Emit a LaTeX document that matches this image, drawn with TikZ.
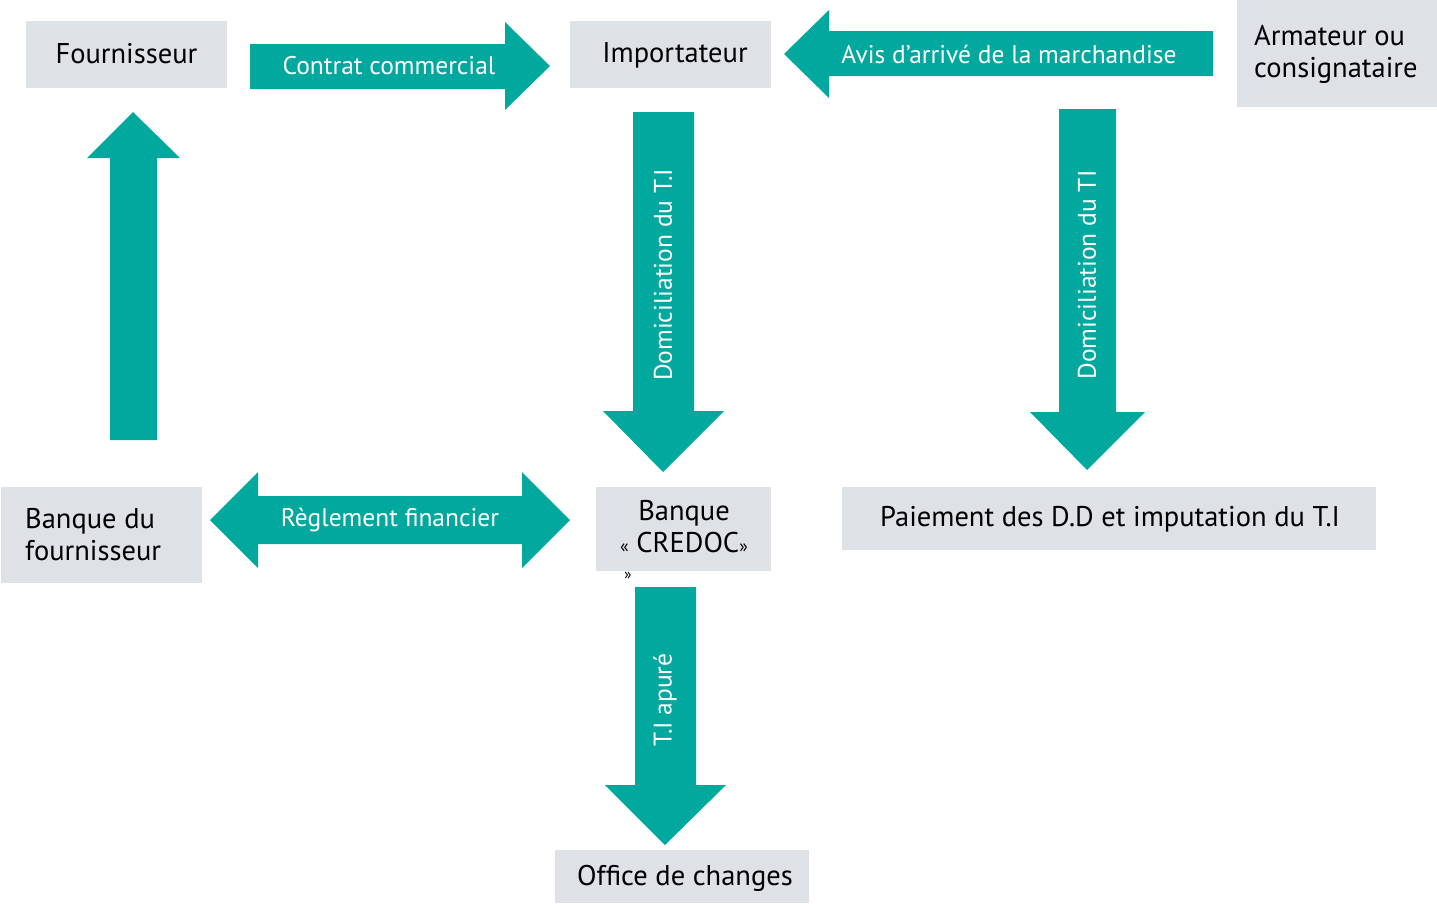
\documentclass[tikz,border=0pt]{standalone}
\usepackage{fontspec}
\setmainfont{PT Sans}
\definecolor{teal1}{HTML}{00A89D}
\definecolor{box1}{HTML}{DEE1E5}
\begin{document}
\begin{tikzpicture}[x=1pt,y=-1pt,
  boxfill/.style={fill=box1},
  arr/.style={fill=teal1},
  lbl/.style={font=\fontsize{28.5}{32}\selectfont, text=black, inner sep=0pt},
  albl/.style={font=\fontsize{25.5}{30}\selectfont, text=white, inner sep=0pt}]
\useasboundingbox (0,0) rectangle (1437,903);
% boxes
\fill[boxfill] (26,21) rectangle (227,88);
\node[lbl] (fourn) at (126.5,54) {Fournisseur};
\fill[boxfill] (570,21) rectangle (771,88);
\node[lbl] (imp) at (675,55) {Importateur};
\fill[boxfill] (1237,0) rectangle (1437,107);
\node[lbl, align=left, anchor=west] (arm) at (1254,54) {Armateur ou\\consignataire};
\fill[boxfill] (1,487) rectangle (202,583);
\node[lbl, align=left, anchor=west] (bqf) at (25,535) {Banque du\\fournisseur};
\fill[boxfill] (596,487) rectangle (771,571);
\node[lbl, align=center] (credoc) at (684,527) {Banque\\{\fontsize{18}{20}\selectfont«} CREDOC{\fontsize{18}{20}\selectfont»}};
\node[font=\fontsize{15}{16}\selectfont, inner sep=0pt] (stray) at (628,576) {»};
\fill[boxfill] (842,487) rectangle (1376,550);
\node[lbl] (paie) at (1110,519) {Paiement des D.D et imputation du T.I};
\fill[boxfill] (555,850) rectangle (809,903);
\node[lbl] (office) at (685,878) {Office de changes};
% arrows
\fill[arr] (250,44) -- (505,44) -- (505,22) -- (550,66) -- (505,110) -- (505,89) -- (250,89) -- cycle;
\node[albl] (a1) at (389,66) {Contrat commercial};
\fill[arr] (1213,31) -- (829,31) -- (829,10) -- (784,54) -- (829,98) -- (829,76) -- (1213,76) -- cycle;
\node[albl] (a2) at (1009,54) {Avis d’arrivé de la marchandise};
\fill[arr] (633,112) -- (694,112) -- (694,411) -- (724,411) -- (663,472) -- (603,411) -- (633,411) -- cycle;
\node[albl, rotate=90] (a3) at (663,275) {Domiciliation du T.I};
\fill[arr] (1059,109) -- (1116,109) -- (1116,412) -- (1145,412) -- (1087,470) -- (1030,412) -- (1059,412) -- cycle;
\node[albl, rotate=90] (a4) at (1087,275) {Domiciliation du TI};
\fill[arr] (110,440) -- (157,440) -- (157,158) -- (180,158) -- (133,112) -- (87,158) -- (110,158) -- cycle;
\fill[arr] (210,520) -- (258,472) -- (258,496) -- (522,496) -- (522,472) -- (570,520) -- (522,568) -- (522,544) -- (258,544) -- (258,568) -- cycle;
\node[albl] (a5) at (390,520) {Règlement financier};
\fill[arr] (635,587) -- (696,587) -- (696,785) -- (726,785) -- (665,845) -- (605,785) -- (635,785) -- cycle;
\node[albl, rotate=90] (a6) at (665,700) {T.I apuré};
\end{tikzpicture}
\end{document}
